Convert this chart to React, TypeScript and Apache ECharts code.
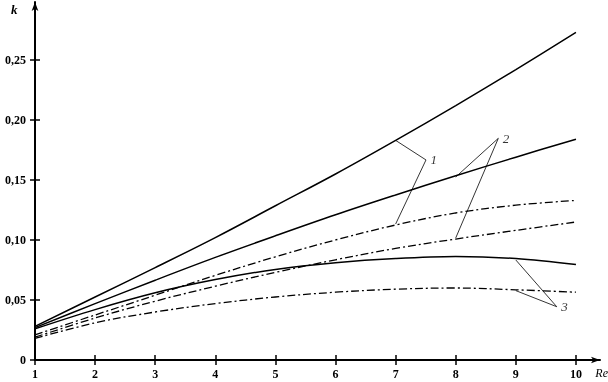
import React, { useEffect, useRef } from 'react';
import * as echarts from 'echarts';

const reValues = [1, 2, 3, 4, 5, 6, 7, 8, 9, 10];
const yTicks = [0, 0.05, 0.1, 0.15, 0.2, 0.25];
const curve1Solid = [0.028, 0.0525, 0.077, 0.102, 0.1285, 0.155, 0.183, 0.212, 0.242, 0.273];
const curve1Dash = [0.021, 0.0375, 0.054, 0.0705, 0.086, 0.1, 0.1125, 0.1225, 0.129, 0.133];
const curve2Solid = [0.027, 0.047, 0.0665, 0.0855, 0.1035, 0.121, 0.1375, 0.1535, 0.169, 0.184];
const curve2Dash = [0.019, 0.035, 0.049, 0.0615, 0.073, 0.0835, 0.093, 0.1008, 0.108, 0.115];
const curve3Solid = [0.026, 0.042, 0.056, 0.067, 0.0755, 0.081, 0.0845, 0.0862, 0.0845, 0.0795];
const curve3Dash = [0.018, 0.031, 0.04, 0.047, 0.0525, 0.0565, 0.059, 0.06, 0.0585, 0.0565];

// leader lines: [end on solid, apex (label), end on dash-dot]
const leader1: number[][] = [[7.0, 0.183], [7.505, 0.1667], [7.0, 0.1133]];
const leader2: number[][] = [[8.0, 0.1525], [8.708, 0.1847], [8.0, 0.1017]];
const leader3: number[][] = [[9.0, 0.0833], [9.68, 0.0444], [9.0, 0.0578]];
const leaderNames = ['1', '2', '3'];

const serif = '"Liberation Serif", "DejaVu Serif", serif';

function pairs(ys: number[]) {
  return reValues.map((x, i) => [x, ys[i]]);
}

export default function App() {
  const ref = useRef<HTMLDivElement>(null);
  useEffect(() => {
    document.body.style.margin = '0';
    const chart = echarts.init(ref.current!, undefined, { renderer: 'svg' });
    const solid = (ys: number[]) => ({
      type: 'line', data: pairs(ys), smooth: 0.35, symbol: 'none', xAxisIndex: 0, yAxisIndex: 0,
      lineStyle: { color: '#000', width: 1.5, type: 'solid' }, silent: true,
    });
    const dash = (ys: number[]) => ({
      type: 'line', data: pairs(ys), smooth: 0.35, symbol: 'none', xAxisIndex: 0, yAxisIndex: 0,
      lineStyle: { color: '#000', width: 1.3, type: [8, 3, 2, 3] }, silent: true,
    });
    const leader = (pts: number[][]) => ({
      type: 'line', symbol: 'none', xAxisIndex: 0, yAxisIndex: 0, silent: true,
      lineStyle: { color: '#000', width: 0.8 },
      data: pts,
    });
    const apexes = [leader1, leader2, leader3].map((pts, i) => [pts[1][0], pts[1][1], leaderNames[i]]);
    const tickCommon = { show: true, length: 5, lineStyle: { color: '#000', width: 1.5 } };
    chart.setOption({
      animation: false,
      grid: { left: 35, right: 8, top: 2, bottom: 22, containLabel: false },
      xAxis: [
        {
          type: 'value', min: 1, max: 10.4,
          axisLine: { show: true, lineStyle: { color: '#000', width: 2 }, symbol: ['none', 'arrow'], symbolSize: [5, 9] },
          axisTick: { ...tickCommon, customValues: reValues },
          axisLabel: { customValues: reValues, color: '#000', fontFamily: serif, fontSize: 12, fontWeight: 'bold', margin: 8 },
          splitLine: { show: false },
        },
        {
          type: 'value', min: 1, max: 10.4, position: 'bottom',
          axisLine: { show: false },
          axisTick: { ...tickCommon, inside: true, customValues: reValues },
          axisLabel: { show: false },
          splitLine: { show: false },
        },
      ],
      yAxis: [
        {
          type: 'value', min: 0, max: 0.2983,
          axisLine: { show: true, lineStyle: { color: '#000', width: 2 }, symbol: ['none', 'arrow'], symbolSize: [5, 9] },
          axisTick: { ...tickCommon, customValues: yTicks },
          axisLabel: {
            customValues: yTicks, color: '#000', fontFamily: serif, fontSize: 12, fontWeight: 'bold', margin: 9,
            formatter: (v: number) => (v === 0 ? '0' : v.toFixed(2).replace('.', ',')),
          },
          splitLine: { show: false },
        },
        {
          type: 'value', min: 0, max: 0.2983, position: 'left',
          axisLine: { show: false },
          axisTick: { ...tickCommon, inside: true, customValues: yTicks },
          axisLabel: { show: false },
          splitLine: { show: false },
        },
      ],
      graphic: [
        { type: 'text', left: 11, top: 3, style: { text: 'k', font: `italic bold 13px ${serif}`, fill: '#000' } },
        { type: 'text', right: 0, top: 367, style: { text: 'Re', font: `italic 12px ${serif}`, fill: '#000' } },
      ],
      series: [
        solid(curve1Solid),
        dash(curve1Dash),
        solid(curve2Solid),
        dash(curve2Dash),
        solid(curve3Solid),
        dash(curve3Dash),
        leader(leader1),
        leader(leader2),
        leader(leader3),
        {
          type: 'scatter', xAxisIndex: 0, yAxisIndex: 0, silent: true,
          symbolSize: 1, itemStyle: { color: 'transparent' },
          data: apexes,
          label: {
            show: true, position: 'right', distance: 4,
            formatter: (p: any) => p.value[2],
            fontFamily: serif, fontStyle: 'italic', fontSize: 13, color: '#000',
          },
        },
      ],
    });
    return () => chart.dispose();
  }, []);
  return <div ref={ref} style={{ position: 'fixed', left: 0, top: 0, width: 608, height: 382 }} />;
}
